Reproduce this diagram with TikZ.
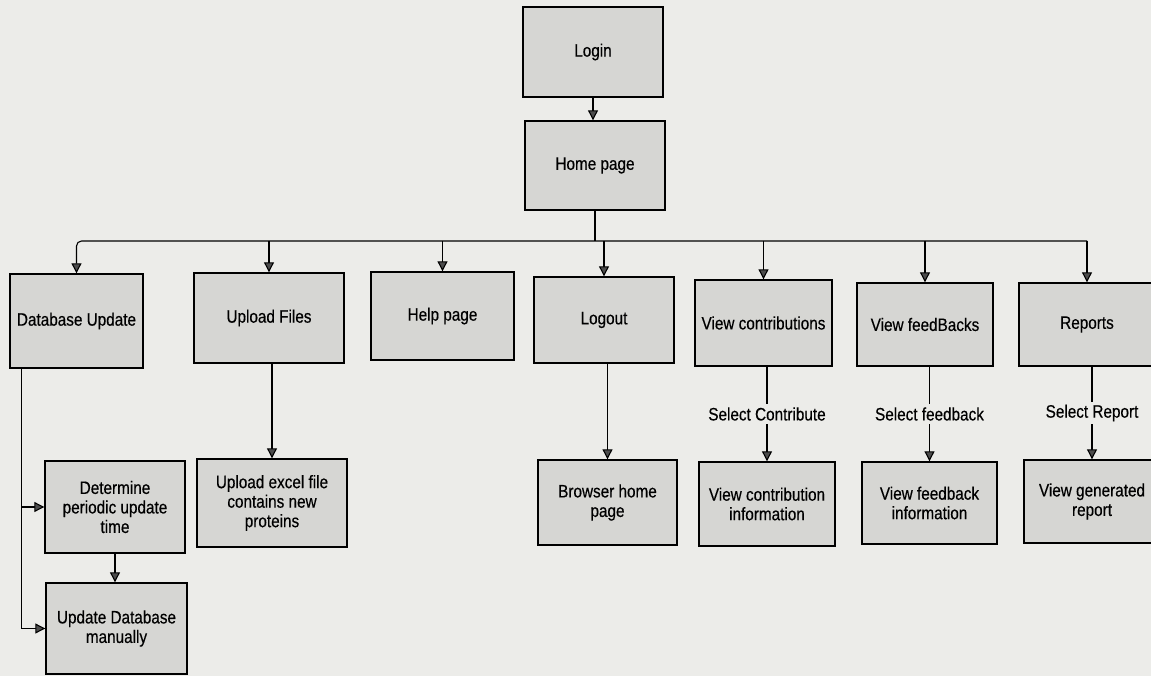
\documentclass[tikz,border=0pt]{standalone}
\usepackage{fontspec}
\setmainfont{Liberation Sans}[FakeStretch=0.85,FakeBold=0.4]
\usetikzlibrary{arrows.meta}
\definecolor{paper}{RGB}{236,236,233}
\definecolor{boxgray}{RGB}{214,214,211}

\begin{document}
\begin{tikzpicture}[x=1pt,y=-1pt,
  box/.style={draw=black, line width=1.4pt, fill=boxgray, align=center,
    font=\fontsize{18}{19.5}\selectfont, inner sep=2pt},
  conn/.style={draw=black, line width=1.1pt},
  flow/.style={conn, -{Triangle[length=10pt,width=10pt,fill=black!70]}},
  lbl/.style={fill=paper, font=\fontsize{18}{19.5}\selectfont, inner sep=3pt}]

% page
\fill[paper] (0,0) rectangle (1151,676);
\useasboundingbox (0,0) rectangle (1151,676);

% top of the flow
\node[box, minimum width=140pt, minimum height=90pt] (login) at (593,52) {Login};
\node[box, minimum width=140pt, minimum height=89pt] (home) at (595,165.5) {Home page};

% first level
\node[box, minimum width=133pt, minimum height=94pt] (dbu) at (76.5,321) {Database Update};
\node[box, minimum width=150pt, minimum height=90pt] (upl) at (269,318) {Upload Files};
\node[box, minimum width=143pt, minimum height=88pt] (help) at (442.5,316) {Help page};
\node[box, minimum width=140pt, minimum height=86pt] (logout) at (604,320) {Logout};
\node[box, minimum width=137pt, minimum height=86pt] (vc) at (763.5,323) {View contributions};
\node[box, minimum width=136pt, minimum height=83pt] (vf) at (925,324.5) {View feedBacks};
\node[box, minimum width=136pt, minimum height=83pt] (rep) at (1087,324.5) {Reports};

% second level
\node[box, minimum width=140pt, minimum height=92pt] (det) at (115,507) {Determine\\periodic update\\time};
\node[box, minimum width=150pt, minimum height=88pt] (uxf) at (272,503) {Upload excel file\\contains new\\proteins};
\node[box, minimum width=141pt, minimum height=91pt] (udm) at (116.5,628.5) {Update Database\\manually};
\node[box, minimum width=139pt, minimum height=85pt] (bhp) at (607.5,502.5) {Browser home\\page};
\node[box, minimum width=136pt, minimum height=84pt] (vci) at (767,504) {View contribution\\information};
\node[box, minimum width=135pt, minimum height=82pt] (vfi) at (929.5,503) {View feedback\\information};
\node[box, minimum width=136pt, minimum height=83pt] (vgr) at (1092,501.5) {View generated\\report};

% connectors
\draw[flow] (login.south) -- (login.south |- home.north);
\coordinate (bus) at (595,241);
\draw[conn] (home.south) -- (bus);
\draw[flow, rounded corners=5pt] (bus -| rep.north) -- (bus -| dbu.north) -- (dbu.north);
\foreach \n in {upl,help,logout,vc,vf,rep}
  \draw[flow] (bus -| \n.north) -- (\n.north);

\coordinate (dbleft) at ([xshift=12pt]dbu.south west);
\draw[flow] (dbleft) |- (det.west);
\draw[flow] (dbleft) |- (udm.west);
\draw[flow] (det.south) -- (det.south |- udm.north);

\draw[flow] (upl.south -| uxf.north) -- (uxf.north);
\draw[flow] (logout.south -| bhp.north) -- (bhp.north);
\draw[flow] (vc.south -| vci.north) -- node[lbl] {Select Contribute} (vci.north);
\draw[flow] (vf.south -| vfi.north) -- node[lbl] {Select feedback} (vfi.north);
\draw[flow] (rep.south -| vgr.north) -- node[lbl] {Select Report} (vgr.north);
\end{tikzpicture}
\end{document}
